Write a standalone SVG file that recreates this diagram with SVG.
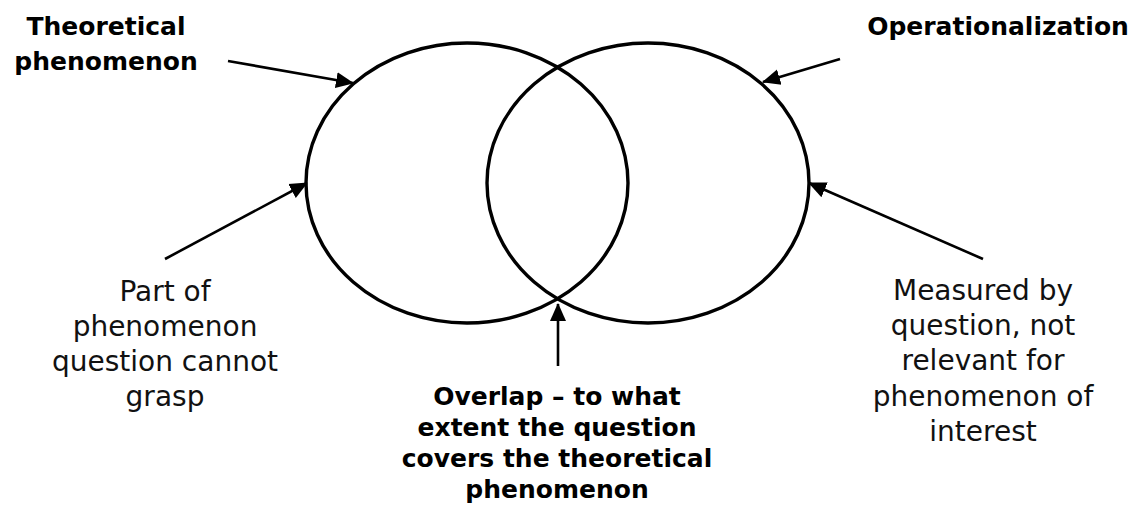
<svg xmlns="http://www.w3.org/2000/svg" width="1136" height="520" viewBox="0 0 1136 520">
  <style>
    .circle { fill: none; stroke: #000; stroke-width: 3.4; }
    .conn { stroke: #000; stroke-width: 2.6; fill: none; marker-end: url(#arrow); }
    .bold { font-family: "DejaVu Sans", "Liberation Sans", sans-serif; font-weight: bold; font-size: 25px; fill: #000; text-anchor: middle; }
    .reg { font-family: "DejaVu Sans", "Liberation Sans", sans-serif; font-size: 28px; fill: #111; text-anchor: middle; }
  </style>
  <defs>
    <marker id="arrow" markerUnits="userSpaceOnUse" markerWidth="18" markerHeight="18" viewBox="0 0 18 18" refX="17" refY="9" orient="auto">
      <path d="M0,1 L18,9 L0,17 z" fill="#000"/>
    </marker>
  </defs>
  <rect width="1136" height="520" fill="#fff"/>

  <g id="theoretical-circle">
    <ellipse class="circle" cx="467" cy="183" rx="161" ry="140"/>
  </g>
  <g id="operationalization-circle">
    <ellipse class="circle" cx="648" cy="183" rx="161" ry="140"/>
  </g>

  <g id="connectors">
    <line class="conn" x1="228" y1="61" x2="353" y2="83"/>
    <line class="conn" x1="840" y1="59" x2="763" y2="82"/>
    <line class="conn" x1="165" y1="259" x2="307" y2="183"/>
    <line class="conn" x1="983" y1="259" x2="809" y2="183"/>
    <line class="conn" x1="558" y1="366" x2="558" y2="304"/>
  </g>

  <g id="label-theoretical">
    <text class="bold" x="106" y="35">Theoretical</text>
    <text class="bold" x="106" y="70">phenomenon</text>
  </g>
  <g id="label-operationalization">
    <text class="bold" x="998" y="35">Operationalization</text>
  </g>
  <g id="label-part">
    <text class="reg" x="165" y="301">Part of</text>
    <text class="reg" x="165" y="336">phenomenon</text>
    <text class="reg" x="165" y="371">question cannot</text>
    <text class="reg" x="165" y="406">grasp</text>
  </g>
  <g id="label-measured">
    <text class="reg" x="983" y="300">Measured by</text>
    <text class="reg" x="983" y="335">question, not</text>
    <text class="reg" x="983" y="370">relevant for</text>
    <text class="reg" x="983" y="406">phenomenon of</text>
    <text class="reg" x="983" y="441">interest</text>
  </g>
  <g id="label-overlap">
    <text class="bold" x="557" y="405">Overlap – to what</text>
    <text class="bold" x="557" y="436">extent the question</text>
    <text class="bold" x="557" y="467">covers the theoretical</text>
    <text class="bold" x="557" y="498">phenomenon</text>
  </g>
</svg>
